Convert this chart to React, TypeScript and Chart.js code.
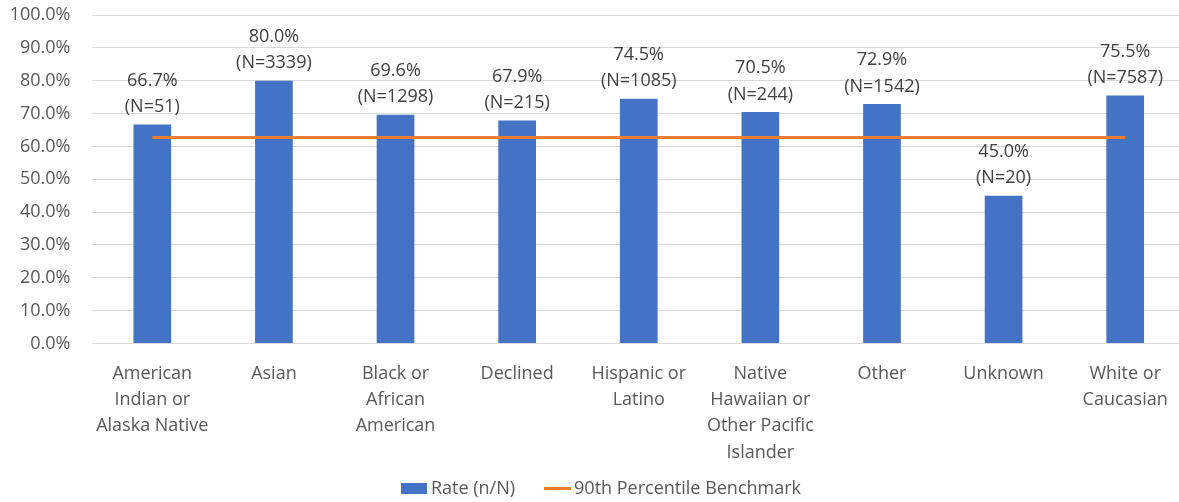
import React, { useEffect, useRef } from "react";
import { Chart, registerables } from "chart.js";

Chart.register(...registerables);

const CATEGORIES: string[][] = [
  ["American", "Indian or", "Alaska Native"],
  ["Asian"],
  ["Black or", "African", "American"],
  ["Declined"],
  ["Hispanic or", "Latino"],
  ["Native", "Hawaiian or", "Other Pacific", "Islander"],
  ["Other"],
  ["Unknown"],
  ["White or", "Caucasian"],
];
const RATES: number[] = [66.7, 80.0, 69.6, 67.9, 74.5, 70.5, 72.9, 45.0, 75.5];
const COUNTS: number[] = [51, 3339, 1298, 215, 1085, 244, 1542, 20, 7587];
const BENCHMARK: number[] = [62.7, 62.7, 62.7, 62.7, 62.7, 62.7, 62.7, 62.7, 62.7];
const Y_TICKS: number[] = [0, 10, 20, 30, 40, 50, 60, 70, 80, 90, 100];
const SERIES_NAMES = ["Rate (n/N)", "90th Percentile Benchmark"];

const FONT = "'Open Sans', 'Noto Sans', sans-serif";
const BLUE = "#4472C4";
const ORANGE = "#ED7D31";

const dataLabels = {
  id: "dataLabels",
  afterDatasetsDraw(chart: any) {
    const meta = chart.getDatasetMeta(0);
    const ctx = chart.ctx;
    ctx.save();
    ctx.font = `18px ${FONT}`;
    ctx.fillStyle = "#404040";
    ctx.textAlign = "center";
    ctx.textBaseline = "middle";
    meta.data.forEach((bar: any, i: number) => {
      ctx.fillText(RATES[i].toFixed(1) + "%", bar.x, bar.y - 44);
      ctx.fillText("(N=" + COUNTS[i] + ")", bar.x, bar.y - 17.5);
    });
    ctx.restore();
  },
};

const customLegend = {
  id: "customLegend",
  afterDraw(chart: any) {
    const ctx = chart.ctx;
    ctx.save();
    ctx.font = `18px ${FONT}`;
    const ds = chart.data.datasets;
    const w1 = ctx.measureText(ds[0].label).width;
    const w2 = ctx.measureText(ds[1].label).width;
    const total = 26 + 4 + w1 + 29 + 27 + 3 + w2;
    let x = 601 - total / 2;
    const y = 488.5;
    ctx.fillStyle = ds[0].backgroundColor;
    ctx.fillRect(x, y - 5.5, 26, 11);
    x += 30;
    ctx.fillStyle = "#595959";
    ctx.textAlign = "left";
    ctx.textBaseline = "middle";
    ctx.fillText(ds[0].label, x, y);
    x += w1 + 29;
    ctx.strokeStyle = ds[1].borderColor;
    ctx.lineWidth = 3;
    ctx.beginPath();
    ctx.moveTo(x, y);
    ctx.lineTo(x + 27, y);
    ctx.stroke();
    x += 30;
    ctx.fillText(ds[1].label, x, y);
    ctx.restore();
  },
};

export default function App() {
  const ref = useRef<HTMLCanvasElement>(null);

  useEffect(() => {
    if (!ref.current) return;
    const chart = new Chart(ref.current, {
      type: "bar",
      data: {
        labels: CATEGORIES,
        datasets: [
          {
            type: "bar",
            label: SERIES_NAMES[0],
            data: RATES,
            backgroundColor: BLUE,
            barPercentage: 0.31,
            categoryPercentage: 1,
            order: 2,
          },
          {
            type: "line",
            label: SERIES_NAMES[1],
            data: BENCHMARK,
            borderColor: ORANGE,
            backgroundColor: ORANGE,
            borderWidth: 3,
            pointRadius: 0,
            fill: false,
            order: 1,
          },
        ],
      } as any,
      options: {
        responsive: false,
        animation: false,
        devicePixelRatio: 1,
        layout: { padding: { top: 15, bottom: 0, left: 0, right: 0 } },
        font: { family: FONT, size: 18 },
        plugins: {
          legend: { display: false },
          tooltip: { enabled: false },
        },
        scales: {
          x: {
            offset: true,
            grid: { display: false, drawTicks: false },
            border: { display: false },
            ticks: {
              color: "#595959",
              font: { family: FONT, size: 18, lineHeight: 1.46 },
              padding: 17,
              maxRotation: 0,
              autoSkip: false,
            },
            afterFit(scale: any) {
              scale.height = 158.5;
            },
          },
          y: {
            min: 0,
            max: 100,
            afterBuildTicks(scale: any) {
              scale.ticks = Y_TICKS.map((v) => ({ value: v }));
            },
            grid: { color: "#D9D9D9", lineWidth: 1, drawTicks: false },
            border: { display: false },
            ticks: {
              color: "#595959",
              font: { family: FONT, size: 18 },
              padding: 21,
              callback: (v: any) => Number(v).toFixed(1) + "%",
            },
            afterFit(scale: any) {
              scale.width = 91.5;
              scale.paddingTop = 0;
              scale.paddingBottom = 0;
            },
          },
        },
      } as any,
      plugins: [dataLabels, customLegend],
    });
    return () => chart.destroy();
  }, []);

  return (
    <div
      style={{
        position: "absolute",
        left: 0,
        top: 0,
        width: 1179,
        height: 502,
        overflow: "hidden",
        background: "#fff",
      }}
    >
      <canvas ref={ref} width={1186} height={502} style={{ display: "block" }} />
    </div>
  );
}
